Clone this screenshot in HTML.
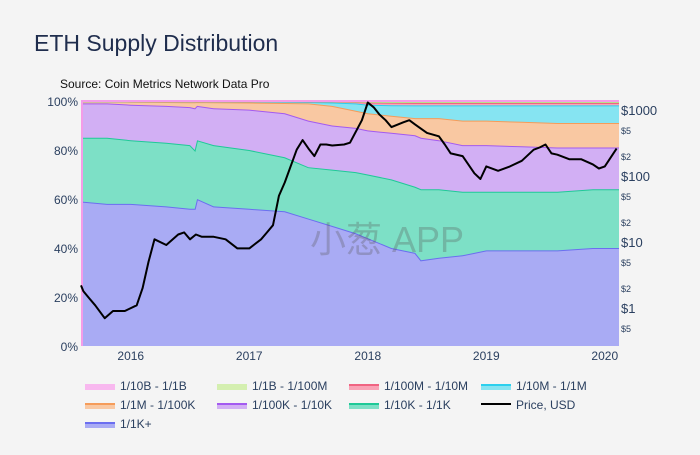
<!DOCTYPE html>
<html><head><meta charset="utf-8"><style>
body{margin:0;background:#f4f4f4;font-family:"Liberation Sans","Noto Sans CJK SC",sans-serif;}
svg text{font-family:"Liberation Sans","Noto Sans CJK SC",sans-serif;}
</style></head><body>
<svg id="c" width="700" height="450" xmlns="http://www.w3.org/2000/svg">
<rect width="700" height="450" fill="#f4f4f4"/>
<text x="34" y="51" font-size="23" fill="#1f2d4d">ETH Supply Distribution</text>
<text x="60" y="88" font-size="12" fill="#111">Source: Coin Metrics Network Data Pro</text>
<g id="plot"></g>
<g id="axes"></g>
<g id="legend"></g>
</svg>
<script>
const dates = [2015.58,2015.8,2016.0,2016.3,2016.5,2016.54,2016.56,2016.7,2017.0,2017.3,2017.5,2017.7,2017.9,2018.0,2018.2,2018.4,2018.45,2018.6,2018.8,2019.0,2019.3,2019.6,2019.9,2020.12];
const k1Top   = [59,58,58,57,56,56,60,57,56,55,52,49,46,44,40,38,35,36,37,39,39,39,40,40];
const k10Top  = [85,85,84,83,82,80,84,82,80,77,73,72,71,70,68,65,64,64,63,63,63,63,64,64];
const k100Top = [99,99,98.5,98,97.5,97,98,97,96.5,95,92,90,89,88,87,86,85,84,82,82,81.5,81,81,81];
const m1Top   = [99.8,99.8,99.7,99.6,99.5,99.5,99.6,99.5,99.4,99.2,99,98,96,95,94,93,93,93,92,92,91.5,91,91,91];
const m10Top  = [99.9,99.9,99.9,99.9,99.9,99.9,99.9,99.9,99.8,99.7,99.6,99.4,99,98.5,98.3,98.2,98.2,98.2,98.2,98.2,98.2,98.2,98.2,98.2];
const m100Top = [99.95,99.95,99.95,99.95,99.95,99.95,99.95,99.95,99.9,99.9,99.85,99.8,99.6,99.4,99.3,99.2,99.2,99.2,99.2,99.2,99.2,99.2,99.2,99.2];
const b1Top   = [99.97,99.97,99.97,99.97,99.97,99.97,99.97,99.97,99.95,99.95,99.95,99.9,99.8,99.7,99.6,99.6,99.6,99.6,99.6,99.6,99.6,99.6,99.6,99.6];
const b10Top  = dates.map(()=>100);
const priceDates = [2015.58,2015.6,2015.65,2015.7,2015.78,2015.85,2015.95,2016.05,2016.1,2016.15,2016.2,2016.3,2016.4,2016.45,2016.5,2016.55,2016.6,2016.7,2016.8,2016.9,2017.0,2017.1,2017.15,2017.2,2017.25,2017.3,2017.4,2017.45,2017.5,2017.55,2017.6,2017.65,2017.7,2017.8,2017.85,2017.95,2018.0,2018.05,2018.1,2018.15,2018.2,2018.3,2018.35,2018.4,2018.5,2018.6,2018.65,2018.7,2018.8,2018.9,2018.95,2019.0,2019.1,2019.2,2019.3,2019.4,2019.45,2019.5,2019.55,2019.6,2019.7,2019.8,2019.9,2019.95,2020.0,2020.1];
const prices = [2.2,1.8,1.4,1.1,0.7,0.9,0.9,1.1,2.0,5,11,9,13,14,11,13,12,12,11,8,8,11,14,18,50,80,250,350,260,200,300,300,290,300,320,700,1300,1100,850,700,550,650,700,600,450,400,300,220,200,110,90,140,120,140,170,250,270,300,220,210,180,180,150,130,140,260];
const xTicks = [2016,2017,2018,2019,2020];
const yTicks = [0,20,40,60,80,100];
const priceMajor = [1,10,100,1000];

const NS="http://www.w3.org/2000/svg";
const X0=81,X1=619,Y0=346,Y1=101;
const xs=d=>X0+(d-2015.58)/(2020.12-2015.58)*(X1-X0);
const ys=p=>Y0-p/100*(Y0-Y1);
const yp=v=>308-Math.log10(v)*66;
function el(tag,attrs,parent){const e=document.createElementNS(NS,tag);for(const k in attrs)e.setAttribute(k,attrs[k]);parent.appendChild(e);return e;}
const plot=document.getElementById('plot'),axes=document.getElementById('axes'),leg=document.getElementById('legend');
const layers=[
 {name:'1/1K+',top:k1Top,bot:null,fill:'#a9abf4',line:'#6b6ef0'},
 {name:'1/10K - 1/1K',top:k10Top,bot:k1Top,fill:'#7de0c6',line:'#1fc997'},
 {name:'1/100K - 1/10K',top:k100Top,bot:k10Top,fill:'#d2aff4',line:'#a35af0'},
 {name:'1/1M - 1/100K',top:m1Top,bot:k100Top,fill:'#f9c8a2',line:'#f59c5a'},
 {name:'1/10M - 1/1M',top:m10Top,bot:m1Top,fill:'#86e4f2',line:'#2cd0ee'},
 {name:'1/100M - 1/10M',top:m100Top,bot:m10Top,fill:'#f9a3b6',line:'#f06482'},
 {name:'1/1B - 1/100M',top:b1Top,bot:m100Top,fill:'#d4efb0',line:'#b5e38a'},
 {name:'1/10B - 1/1B',top:b10Top,bot:b1Top,fill:'#f8b8ef',line:'#f49ce8'}
];
layers.forEach(L=>{
 let d='M'+dates.map((t,i)=>xs(t).toFixed(1)+','+ys(L.top[i]).toFixed(1)).join('L');
 for(let i=dates.length-1;i>=0;i--)d+='L'+xs(dates[i]).toFixed(1)+','+ys(L.bot?L.bot[i]:0).toFixed(1);
 const a=el('path',{d:d+'Z',fill:L.fill},plot);
 
 
 const l=el('path',{d:'M'+dates.map((t,i)=>xs(t).toFixed(1)+','+ys(L.top[i]).toFixed(1)).join('L'),fill:'none',stroke:L.line,'stroke-width':2},plot);
 
 
});
const strip=el('rect',{x:X0,y:Y1,width:2,height:Y0-Y1,fill:'#f49ce8'},plot);


const wm=el('text',{x:310,y:252,'font-size':36,fill:'#555','fill-opacity':0.3},plot);
wm.textContent='小葱 APP';


const pl=el('path',{d:'M'+priceDates.map((t,i)=>xs(t).toFixed(1)+','+yp(prices[i]).toFixed(1)).join('L'),fill:'none',stroke:'#000','stroke-width':2,'stroke-linejoin':'round'},plot);


xTicks.forEach(t=>{const e=el('text',{x:xs(t),y:360,'font-size':12,fill:'#2a3f5f','text-anchor':'middle'},axes);e.textContent=t;
 
 });
yTicks.forEach(t=>{const e=el('text',{x:78,y:ys(t)+5,'font-size':12,fill:'#2a3f5f','text-anchor':'end'},axes);e.textContent=t+'%';
 
 });
priceMajor.forEach(v=>{const e=el('text',{x:621,y:yp(v)+5,'font-size':13,fill:'#2a3f5f'},axes);e.textContent='$'+v;
 
 
 [2,5].forEach(m=>{const yy=yp(v*m);if(yy<Y1)return;const s=el('text',{x:621,y:yy+4,'font-size':9,fill:'#2a3f5f'},axes);s.textContent='$'+m;
 
 });});
{const s=el('text',{x:621,y:yp(0.5)+4,'font-size':9,fill:'#2a3f5f'},axes);s.textContent='$5';
 
 }
const legItems=[
 {n:'1/10B - 1/1B',f:'#f8b8ef',l:'#f8b8ef'},{n:'1/1B - 1/100M',f:'#d4efb0',l:'#d4efb0'},{n:'1/100M - 1/10M',f:'#f9a3b6',l:'#f06482'},{n:'1/10M - 1/1M',f:'#86e4f2',l:'#2cd0ee'},
 {n:'1/1M - 1/100K',f:'#f9c8a2',l:'#f59c5a'},{n:'1/100K - 1/10K',f:'#d2aff4',l:'#a35af0'},{n:'1/10K - 1/1K',f:'#7de0c6',l:'#1fc997'},{n:'Price, USD',f:null,l:'#000'},
 {n:'1/1K+',f:'#a9abf4',l:'#6b6ef0'}];
legItems.forEach((it,i)=>{const x=85+(i%4)*132,y=386+Math.floor(i/4)*19;
 const g=el('g',{},leg);
 
 
 if(it.f)el('rect',{x:x,y:y-2,width:30,height:6,fill:it.f},g);
 el('line',{x1:x,x2:x+30,y1:y-1,y2:y-1,stroke:it.l,'stroke-width':2},g);
 const t=el('text',{x:x+35,y:y+4,'font-size':12,fill:'#2a3f5f'},g);t.textContent=it.n;});
</script>
</body></html>
